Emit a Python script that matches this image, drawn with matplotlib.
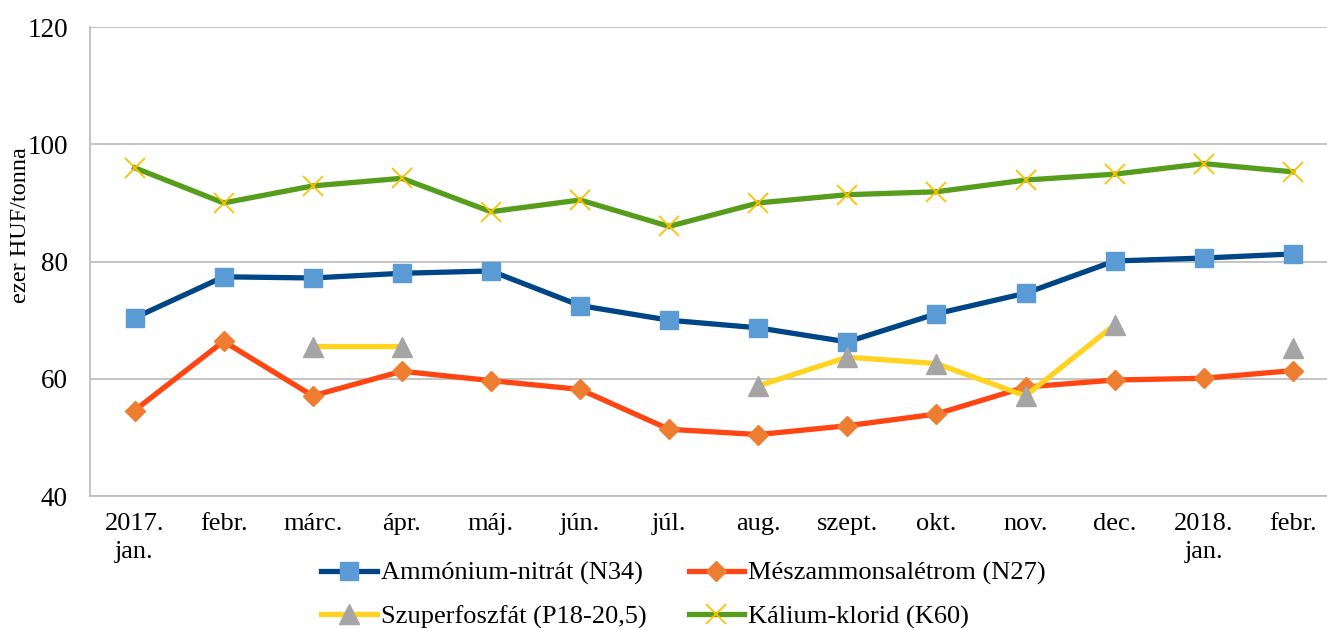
import numpy as np
from matplotlib import pyplot as plt

# betűtípus (Times New Roman helyett)
plt.rcParams['font.family'] = ['Liberation Serif', 'DejaVu Serif']

# adatok
months = ['2017.\njan.', 'febr.', 'márc.', 'ápr.', 'máj.', 'jún.', 'júl.',
          'aug.', 'szept.', 'okt.', 'nov.', 'dec.', '2018.\njan.', 'febr.']
ammonium = [70.4, 77.4, 77.2, 78.0, 78.4, 72.5, 70.0, 68.7, 66.3, 71.1, 74.6, 80.1, 80.6, 81.3]
meszammon = [54.6, 66.4, 57.1, 61.3, 59.7, 58.2, 51.4, 50.5, 52.0, 54.0, 58.6, 59.8, 60.1, 61.4]
szuperfoszfat = [np.nan, np.nan, 65.5, 65.5, np.nan, np.nan, np.nan,
                 58.8, 63.7, 62.6, 57.1, 69.2, np.nan, 65.3]
kalium = [96.0, 90.0, 92.9, 94.2, 88.5, 90.5, 86.0, 90.0, 91.4, 91.9, 93.9, 94.9, 96.7, 95.3]

x = np.arange(len(months))

fig = plt.figure(figsize=(13.27, 6.28), dpi=100)
ax = fig.add_axes([0.0678, 0.21, 0.94, 0.747])

l1, = ax.plot(x, ammonium, color='#004586', lw=3.8, marker='s', ms=13,
              mfc='#5B9BD5', mec='#5B9BD5', label='Ammónium-nitrát (N34)')
l2, = ax.plot(x, meszammon, color='#FF4512', lw=3.8, marker='D', ms=10,
              mfc='#ED7D31', mec='#ED7D31', label='Mészammonsalétrom (N27)')
l3, = ax.plot(x, szuperfoszfat, color='#FFD320', lw=3.8, marker='^', ms=14,
              mfc='#A5A5A5', mec='#A5A5A5', label='Szuperfoszfát (P18-20,5)')
l4, = ax.plot(x, kalium, color='#579D1C', lw=3.8, marker='x', ms=14, mew=1.3,
              mec='#FFC000', label='Kálium-klorid (K60)')

# tengelyek
ax.set_xlim(-0.5, 13.5)
ax.set_ylim(40, 120)
ax.set_yticks([40, 60, 80, 100, 120])
ax.set_xticks(x)
ax.set_xticklabels(months, fontsize=19, linespacing=1.35)
ax.tick_params(axis='y', labelsize=19.5, length=0, pad=16)
ax.tick_params(axis='x', length=0, pad=12)
ax.yaxis.grid(True, color='#BFBFBF', lw=1.3)
ax.set_axisbelow(True)
for s in ['top', 'right']:
    ax.spines[s].set_visible(False)
for s in ['left', 'bottom']:
    ax.spines[s].set_color('#BFBFBF')
    ax.spines[s].set_linewidth(1.3)
ax.set_ylabel('ezer HUF/tonna', fontsize=17.5)
ax.yaxis.set_label_coords(-0.047, 0.578)

# jelmagyarázat
fig.legend(handles=[l1, l3, l2, l4], ncol=2, loc='center',
           bbox_to_anchor=(0.515, 0.052), frameon=False, fontsize=19,
           handlelength=2.1, handletextpad=0.15, columnspacing=1.6,
           labelspacing=0.75)

plt.savefig('out.png', dpi=100)
